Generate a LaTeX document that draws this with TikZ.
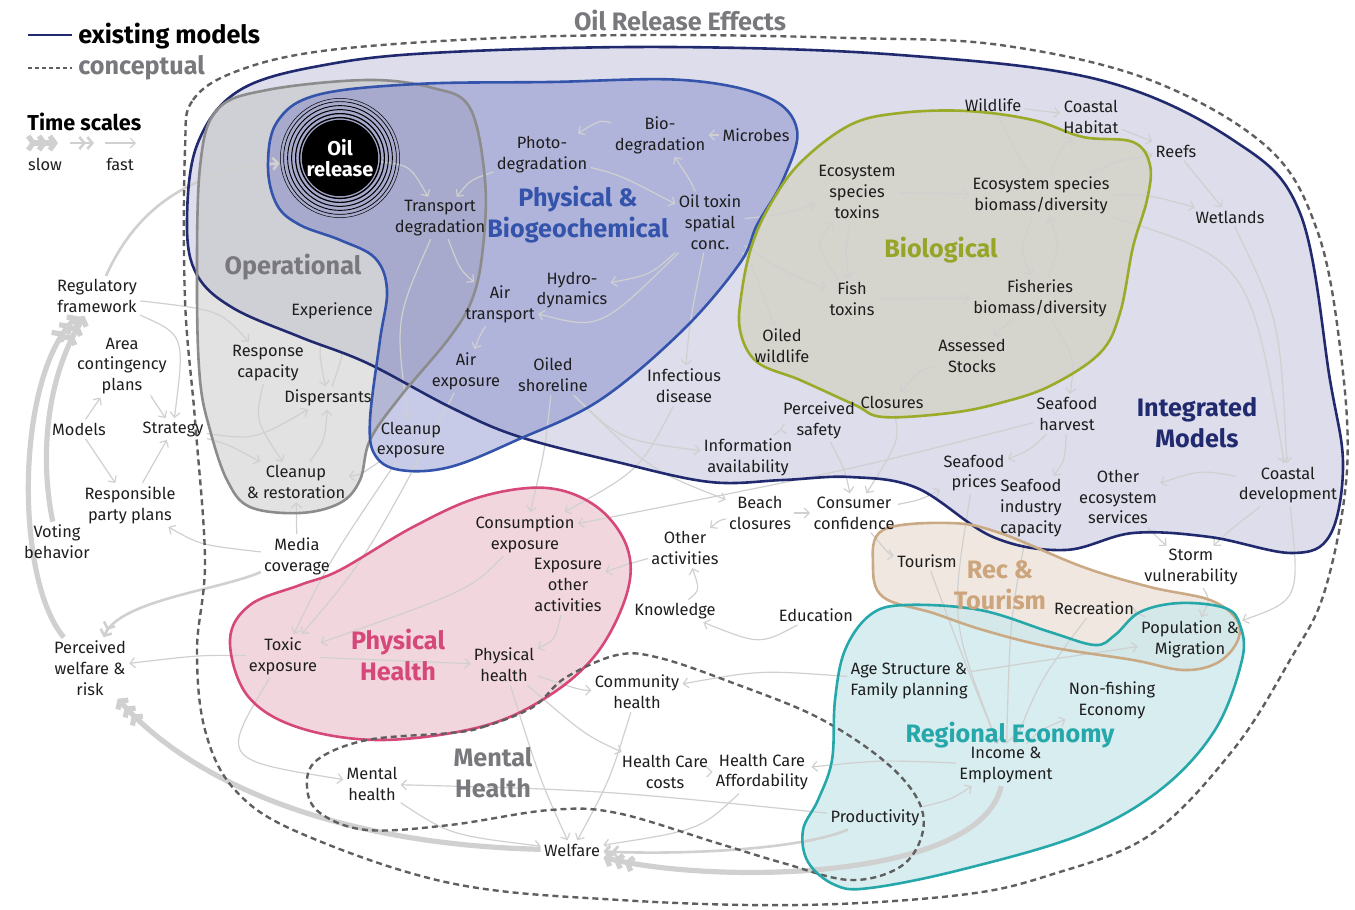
\documentclass[tikz,border=0pt]{standalone}
\usepackage{fontspec}
\setmainfont{Fira Sans}
\usetikzlibrary{arrows.meta}

\definecolor{navy}{RGB}{33,42,110}
\definecolor{imfill}{RGB}{221,221,235}
\definecolor{pbline}{RGB}{52,84,172}
\definecolor{pbfill}{RGB}{84,94,185}
\definecolor{opline}{RGB}{140,140,140}
\definecolor{opfill}{RGB}{190,190,190}
\definecolor{bioline}{RGB}{155,170,40}
\definecolor{biofill}{RGB}{213,212,202}
\definecolor{phline}{RGB}{214,72,122}
\definecolor{phfill}{RGB}{242,214,222}
\definecolor{recline}{RGB}{202,170,132}
\definecolor{recfill}{RGB}{240,232,224}
\definecolor{ecoline}{RGB}{38,168,170}
\definecolor{ecofill}{RGB}{205,232,236}
\definecolor{mhline}{RGB}{95,95,95}
\definecolor{linkgray}{RGB}{208,208,208}
\definecolor{txtgray}{RGB}{120,120,125}
\definecolor{lbltext}{RGB}{30,30,30}

\newcommand\lblfont{\fontsize{8.2}{10.4}\selectfont}
\newcommand\regfont{\fontsize{12.6}{15.5}\selectfont\bfseries}

\pgfdeclarelayer{fills}
\pgfdeclarelayer{links}
\pgfdeclarelayer{outlines}
\pgfsetlayers{fills,links,outlines,main}

\tikzset{
  lbl/.style={font=\lblfont, align=center, inner sep=1.5pt, text=lbltext},
  reglbl/.style={font=\regfont, align=center, inner sep=0pt},
  fastlink/.style={draw=linkgray, line width=0.6pt, -{Straight Barb[length=2.5pt,width=5pt]}},
  midlink/.style={draw=linkgray, line width=1.3pt, -{Straight Barb[length=2.5pt,width=6pt]Straight Barb[length=2.5pt,width=6pt]}},
  slowlink/.style={draw=linkgray, line width=2.6pt, -{Straight Barb[length=2.5pt,width=7pt]Straight Barb[length=2.5pt,width=7pt]Straight Barb[length=2.5pt,width=7pt]}},
  blob/.style={smooth cycle, tension=0.6},
}

\begin{document}
\begin{tikzpicture}[x=0.5pt,y=-0.5pt]
\useasboundingbox (0,0) rectangle (1355,910);

\path[save path=\pOuter] plot[blob] coordinates {(185,150) (193,100) (240,70) (330,50) (500,38) (670,35) (850,38) (1000,45) (1150,80) (1267,147) (1317,230) (1340,347) (1347,470) (1325,590) (1290,660) (1233,750) (1150,835) (1050,875) (960,895) (800,905) (620,900) (450,883) (300,833) (235,790) (205,730) (197,650) (205,560) (195,420) (185,300)};
\path[save path=\pIM] plot[blob] coordinates {(187,225) (197,145) (240,90) (330,64) (450,52) (670,47) (900,55) (1100,80) (1233,140) (1300,213) (1330,380) (1343,465) (1330,535) (1292,553) (1210,537) (1133,533) (1065,550) (993,537) (917,488) (850,477) (783,480) (710,482) (617,462) (517,436) (450,407) (367,363) (300,337) (233,308) (197,275)};
\path[save path=\pOP] plot[blob] coordinates {(200,167) (217,110) (267,90) (367,80) (433,88) (470,108) (485,180) (483,247) (473,297) (450,337) (400,397) (370,440) (360,480) (340,503) (300,513) (250,507) (227,480) (210,430) (200,380) (197,290)};
\path[save path=\pPB] plot[blob] coordinates {(268,167) (277,122) (317,95) (417,84) (550,82) (683,80) (767,97) (797,130) (783,180) (757,225) (740,263) (683,330) (600,400) (517,440) (450,467) (400,470) (375,455) (370,420) (380,340) (387,290) (375,258) (340,240) (300,225) (277,205)};
\path[save path=\pBIO] plot[blob] coordinates {(850,125) (900,113) (967,111) (1033,120) (1083,137) (1133,142) (1150,165) (1147,200) (1133,247) (1120,313) (1100,353) (1050,386) (1000,403) (950,413) (883,417) (855,405) (800,380) (757,362) (740,330) (742,290) (752,245) (770,205) (800,163)};
\path[save path=\pPH] plot[blob] coordinates {(230,640) (250,605) (300,585) (340,570) (413,527) (480,497) (547,488) (597,507) (627,547) (627,593) (597,653) (547,697) (480,727) (380,740) (297,727) (247,695)};
\path[save path=\pMH] plot[blob] coordinates {(450,733) (483,727) (533,707) (565,678) (617,655) (660,658) (733,683) (817,717) (883,760) (918,800) (922,835) (900,867) (850,880) (783,863) (717,843) (617,813) (550,810) (450,825) (367,830) (320,813) (307,787) (317,760) (367,740)};
\path[save path=\pREC] plot[blob] coordinates {(873,565) (883,530) (950,523) (1000,533) (1083,567) (1150,587) (1210,600) (1237,620) (1237,642) (1217,663) (1183,670) (1133,660) (1050,647) (983,630) (933,613) (883,597)};
\path[save path=\pECO] plot[blob] coordinates {(835,885) (870,888) (960,870) (1080,835) (1160,790) (1215,730) (1242,660) (1240,625) (1225,608) (1180,603) (1140,612) (1115,635) (1095,645) (1050,632) (980,610) (905,605) (870,615) (845,650) (835,700) (832,760) (818,800) (803,830) (808,862)};

\begin{pgfonlayer}{fills}
\path[use path=\pIM, fill=imfill];
\path[use path=\pOP, fill=opfill, fill opacity=0.45];
\path[use path=\pPB, fill=pbfill, fill opacity=0.32];
\path[use path=\pBIO, fill=biofill, fill opacity=0.9];
\path[use path=\pPH, fill=phfill];
\path[use path=\pREC, fill=recfill];
\path[use path=\pECO, fill=ecofill, fill opacity=0.8];
\end{pgfonlayer}

\node[circle, fill=black, minimum size=37pt, inner sep=0pt, text=white, align=center, font=\fontsize{10}{10.5}\selectfont\bfseries] (oil) at (340,158) {Oil\\release};
\foreach \r/\w in {20.2/0.7,22.2/0.6,24.2/0.5,26.2/0.45,28.2/0.35,29.8/0.25}
  \draw[line width=\w pt] (oil.center) circle (\r pt);

\node[lbl] (transport) at (440,218) {Transport\\degradation};
\node[lbl] (photo) at (542,155) {Photo-\\degradation};
\node[lbl] (biodeg) at (660,135) {Bio-\\degradation};
\node[lbl] (microbes) at (756,135) {Microbes};
\node[lbl] (oiltox) at (710,222) {Oil toxin\\spatial\\conc.};
\node[lbl] (hydro) at (572,290) {Hydro-\\dynamics};
\node[lbl] (airtrans) at (500,304) {Air\\transport};
\node[lbl] (airexp) at (466,371) {Air\\exposure};
\node[lbl] (oiledshore) at (553,375) {Oiled\\shoreline};
\node[lbl] (cleanexp) at (411,440) {Cleanup\\exposure};
\node[lbl] (experience) at (332,311) {Experience};
\node[lbl] (response) at (268,363) {Response\\capacity};
\node[lbl] (dispersants) at (328,398) {Dispersants};
\node[lbl] (cleanrest) at (296,482) {Cleanup\\\& restoration};
\node[lbl] (regulatory) at (97,296) {Regulatory\\framework};
\node[lbl] (area) at (122,366) {Area\\contingency\\plans};
\node[lbl] (models) at (79,429) {Models};
\node[lbl] (strategy) at (173,429) {Strategy};
\node[lbl] (responsible) at (130,505) {Responsible\\party plans};
\node[lbl] (voting) at (57,542) {Voting\\behavior};
\node[lbl] (media) at (297,556) {Media\\coverage};
\node[lbl] (percwelfare) at (90,668) {Perceived\\welfare \&\\risk};
\node[lbl] (toxic) at (283,656) {Toxic\\exposure};
\node[lbl] (consumexp) at (525,534) {Consumption\\exposure};
\node[lbl] (exposother) at (568,585) {Exposure\\other\\activities};
\node[lbl] (physhealth) at (504,665) {Physical\\health};
\node[lbl] (knowledge) at (675,611) {Knowledge};
\node[lbl] (otheract) at (685,548) {Other\\activities};
\node[lbl] (education) at (816,615) {Education};
\node[lbl] (beach) at (760,513) {Beach\\closures};
\node[lbl] (consumer) at (854,513) {Consumer\\confidence};
\node[lbl] (infoav) at (748,457) {Information\\availability};
\node[lbl] (percsafety) at (819,420) {Perceived\\safety};
\node[lbl] (infectious) at (684,386) {Infectious\\disease};
\node[lbl] (oiledwild) at (782,346) {Oiled\\wildlife};
\node[lbl] (closures) at (892,402) {Closures};
\node[lbl] (ecotox) at (857,192) {Ecosystem\\species\\toxins};
\node[lbl] (fishtox) at (852,299) {Fish\\toxins};
\node[lbl] (ecobio) at (1041,195) {Ecosystem species\\biomass/diversity};
\node[lbl] (fishbio) at (1040,298) {Fisheries\\biomass/diversity};
\node[lbl] (assessed) at (972,356) {Assessed\\Stocks};
\node[lbl] (wildlife) at (993,105) {Wildlife};
\node[lbl] (coasthab) at (1091,117) {Coastal\\Habitat};
\node[lbl] (reefs) at (1176,151) {Reefs};
\node[lbl] (wetlands) at (1230,217) {Wetlands};
\node[lbl] (harvest) at (1067,414) {Seafood\\harvest};
\node[lbl] (prices) at (974,473) {Seafood\\prices};
\node[lbl] (industry) at (1031,508) {Seafood\\industry\\capacity};
\node[lbl] (othereco) at (1118,497) {Other\\ecosystem\\services};
\node[lbl] (coastdev) at (1288,485) {Coastal\\development};
\node[lbl] (storm) at (1191,567) {Storm\\vulnerability};
\node[lbl] (tourism) at (927,561) {Tourism};
\node[lbl] (recreation) at (1094,608) {Recreation};
\node[lbl] (population) at (1190,639) {Population \&\\Migration};
\node[lbl] (agestruct) at (909,681) {Age Structure \&\\Family planning};
\node[lbl] (nonfish) at (1112,700) {Non-fishing\\Economy};
\node[lbl] (income) at (1006,765) {Income \&\\Employment};
\node[lbl] (productivity) at (875,818) {Productivity};
\node[lbl] (commhealth) at (637,692) {Community\\health};
\node[lbl] (hccosts) at (665,772) {Health Care\\costs};
\node[lbl] (hcafford) at (762,772) {Health Care\\Affordability};
\node[lbl] (mentalh) at (372,784) {Mental\\health};
\node[lbl] (welfare) at (572,850) {Welfare};

\begin{pgfonlayer}{links}
\draw[fastlink] (oil) .. controls (410,165) .. (transport);
\draw[fastlink] (photo) .. controls (470,180) .. (transport);
\draw[fastlink] (biodeg) .. controls (600,120) .. (photo);
\draw[fastlink] (microbes) -- (biodeg);
\draw[fastlink] (oiltox) .. controls (690,180) .. (biodeg);
\draw[fastlink] (photo) .. controls (620,175) .. (oiltox);
\draw[fastlink] (oiltox) .. controls (650,275) .. (hydro);
\draw[fastlink] (oiltox) .. controls (600,330) .. (airtrans);
\draw[fastlink] (airtrans) .. controls (480,335) .. (airexp);
\draw[fastlink] (transport) .. controls (460,270) .. (airtrans);
\draw[fastlink] (transport) .. controls (395,320) .. (cleanexp);
\draw[fastlink] (oiltox) .. controls (690,320) .. (infectious);
\draw[fastlink] (oiltox) .. controls (750,260) .. (oiledwild);
\draw[fastlink] (oiltox) .. controls (780,215) .. (ecotox);
\draw[fastlink] (oiltox) .. controls (780,270) .. (fishtox);
\draw[fastlink] (ecotox) .. controls (845,250) .. (fishtox);
\draw[fastlink] (fishtox) .. controls (815,245) .. (ecotox);
\draw[fastlink] (ecotox) -- (ecobio);
\draw[fastlink] (fishtox) -- (fishbio);
\draw[fastlink] (ecobio) .. controls (1020,250) .. (fishbio);
\draw[fastlink] (fishbio) .. controls (1060,245) .. (ecobio);
\draw[fastlink] (ecobio) .. controls (1010,140) .. (wildlife);
\draw[fastlink] (ecobio) .. controls (1060,150) .. (coasthab);
\draw[fastlink] (ecobio) .. controls (1120,160) .. (reefs);
\draw[fastlink] (ecobio) .. controls (1150,195) .. (wetlands);
\draw[fastlink] (wildlife) -- (coasthab);
\draw[fastlink] (coasthab) -- (reefs);
\draw[fastlink] (reefs) -- (wetlands);
\draw[fastlink] (fishbio) .. controls (1000,330) .. (assessed);
\draw[fastlink] (assessed) .. controls (920,370) .. (closures);
\draw[fastlink] (fishbio) .. controls (1075,360) .. (harvest);
\draw[fastlink] (harvest) .. controls (1030,450) .. (prices);
\draw[fastlink] (harvest) .. controls (1065,460) .. (industry);
\draw[fastlink] (coastdev) .. controls (1200,470) .. (othereco);
\draw[fastlink] (coastdev) .. controls (1230,530) .. (storm);
\draw[fastlink] (othereco) .. controls (1160,540) .. (storm);
\draw[fastlink] (wetlands) .. controls (1280,320) .. (coastdev);
\draw[fastlink] (ecobio) .. controls (1250,260) .. (coastdev);
\draw[fastlink] (infoav) .. controls (780,430) .. (percsafety);
\draw[fastlink] (percsafety) .. controls (845,470) .. (consumer);
\draw[fastlink] (beach) -- (consumer);
\draw[fastlink] (beach) .. controls (720,520) .. (otheract);
\draw[fastlink] (knowledge) .. controls (700,590) .. (otheract);
\draw[fastlink] (education) .. controls (760,645) .. (knowledge);
\draw[fastlink] (consumer) .. controls (890,555) .. (tourism);
\draw[fastlink] (population) .. controls (1135,612) .. (recreation);
\draw[fastlink] (agestruct) .. controls (1080,655) .. (population);
\draw[fastlink] (income) .. controls (1040,730) .. (nonfish);
\draw[fastlink] (productivity) .. controls (950,800) .. (income);
\draw[fastlink] (hccosts) -- (hcafford);
\draw[fastlink] (income) .. controls (880,760) .. (hcafford);
\draw[fastlink] (toxic) -- (physhealth);
\draw[fastlink] (exposother) .. controls (555,640) .. (physhealth);
\draw[fastlink] (consumexp) .. controls (470,590) .. (toxic);
\draw[fastlink] (physhealth) .. controls (580,690) .. (commhealth);
\draw[fastlink] (agestruct) .. controls (760,670) .. (commhealth);
\draw[fastlink] (physhealth) .. controls (585,735) .. (hccosts);
\draw[fastlink] (toxic) .. controls (220,760) .. (mentalh);
\draw[fastlink] (productivity) .. controls (600,790) .. (mentalh);
\draw[fastlink] (mentalh) .. controls (450,835) .. (welfare);
\draw[fastlink] (physhealth) .. controls (540,780) .. (welfare);
\draw[fastlink] (commhealth) .. controls (610,780) .. (welfare);
\draw[fastlink] (hcafford) .. controls (700,830) .. (welfare);
\draw[fastlink] (media) .. controls (200,545) .. (responsible);
\draw[fastlink] (media) -- (cleanrest);
\draw[fastlink] (toxic) .. controls (200,655) .. (percwelfare);
\draw[fastlink] (regulatory) .. controls (220,310) .. (response);
\draw[fastlink] (regulatory) .. controls (185,335) .. (strategy);
\draw[fastlink] (area) .. controls (150,395) .. (strategy);
\draw[fastlink] (models) -- (area);
\draw[fastlink] (models) -- (responsible);
\draw[fastlink] (responsible) -- (strategy);
\draw[fastlink] (strategy) .. controls (230,445) .. (cleanrest);
\draw[fastlink] (strategy) .. controls (255,440) .. (dispersants);
\draw[fastlink] (response) .. controls (255,420) .. (cleanrest);
\draw[fastlink] (experience) .. controls (318,350) .. (dispersants);
\draw[fastlink] (dispersants) .. controls (345,350) .. (experience);
\draw[fastlink] (cleanrest) .. controls (325,440) .. (dispersants);
\draw[fastlink] (cleanexp) .. controls (360,475) .. (cleanrest);
\draw[fastlink] (cleanexp) .. controls (330,560) .. (toxic);
\draw[fastlink] (airexp) .. controls (365,560) .. (toxic);
\draw[fastlink] (oiledshore) .. controls (545,450) .. (consumexp);
\draw[fastlink] (oiledshore) .. controls (650,470) .. (beach);
\draw[fastlink] (oiledshore) .. controls (620,440) .. (infoav);
\draw[fastlink] (harvest) .. controls (850,470) .. (consumexp);
\draw[fastlink] (otheract) .. controls (625,565) .. (exposother);
\draw[fastlink] (prices) .. controls (950,620) .. (income);
\draw[fastlink] (industry) .. controls (1010,620) .. (income);
\draw[fastlink] (recreation) .. controls (1040,680) .. (income);
\draw[fastlink] (tourism) .. controls (960,650) .. (income);
\draw[fastlink] (storm) .. controls (1210,600) .. (population);
\draw[fastlink] (coastdev) .. controls (1300,600) .. (population);
\draw[fastlink] (consumer) .. controls (920,500) .. (prices);
\draw[fastlink] (infectious) .. controls (640,470) .. (consumexp);
\draw[fastlink] (closures) .. controls (900,440) .. (consumer);

\draw[midlink, shorten >=11pt] (regulatory) .. controls (140,200) and (200,170) .. (oil);
\draw[midlink] (productivity) .. controls (800,850) and (680,855) .. (welfare);
\draw[midlink] (media) .. controls (220,590) and (120,600) .. (percwelfare);

\draw[slowlink] (voting) .. controls (40,460) and (45,380) .. (regulatory);
\draw[slowlink] (percwelfare) .. controls (15,580) and (15,380) .. (regulatory);
\draw[slowlink] (welfare) .. controls (350,845) and (200,790) .. (percwelfare);
\draw[slowlink] (income) .. controls (980,880) and (720,885) .. (welfare);
\end{pgfonlayer}

\begin{pgfonlayer}{outlines}
\path[use path=\pOuter, draw=mhline, line width=1.2pt, dash pattern=on 3pt off 2pt];
\path[use path=\pIM, draw=navy, line width=1.3pt];
\path[use path=\pOP, draw=opline, line width=1.3pt];
\path[use path=\pPB, draw=pbline, line width=1.3pt];
\path[use path=\pBIO, draw=bioline, line width=1.3pt];
\path[use path=\pPH, draw=phline, line width=1.3pt];
\path[use path=\pMH, draw=mhline, line width=1.2pt, dash pattern=on 3pt off 2pt];
\path[use path=\pREC, draw=recline, line width=1.3pt];
\path[use path=\pECO, draw=ecoline, line width=1.3pt];
\end{pgfonlayer}

\node[reglbl, text=txtgray] (titleofall) at (680,20) {Oil Release Effects};
\node[reglbl, text=pbline] (pbname) at (578,215) {Physical \&\\Biogeochemical};
\node[reglbl, text=txtgray] (opname) at (293,267) {Operational};
\node[reglbl, text={rgb,255:red,150;green,165;blue,40}] (bioname) at (941,250) {Biological};
\node[reglbl, text=navy] (imname) at (1197,423) {Integrated\\Models};
\node[reglbl, text=phline] (phname) at (398,655) {Physical\\Health};
\node[reglbl, text=txtgray] (mhname) at (493,773) {Mental\\Health};
\node[reglbl, text={rgb,255:red,205;green,165;blue,125}] (recname) at (1000,585) {Rec \&\\Tourism};
\node[reglbl, text=ecoline] (econame) at (1010,735) {Regional Economy};

\coordinate (legA) at (28,35);
\coordinate (legB) at (72,35);
\coordinate (legC) at (28,68);
\coordinate (legD) at (72,68);
\draw[navy, line width=1.3pt] (legA) -- (legB);
\draw[mhline, line width=1.2pt, dash pattern=on 2pt off 1.5pt] (legC) -- (legD);
\node[reglbl, anchor=west, text=black] (legexist) at (78,36) {existing models};
\node[reglbl, anchor=west, text=txtgray] (legconc) at (78,68) {conceptual};
\node[anchor=west, font=\fontsize{10.8}{12}\selectfont\bfseries, inner sep=0pt] (timescales) at (27,122) {Time scales};
\coordinate (slowA) at (32,143);
\coordinate (slowB) at (58,143);
\coordinate (midA) at (70,143);
\coordinate (midB) at (94,143);
\coordinate (fastA) at (105,143);
\coordinate (fastB) at (136,143);
\draw[slowlink] (slowA) -- (slowB);
\draw[midlink] (midA) -- (midB);
\draw[fastlink] (fastA) -- (fastB);
\node[lbl] (slowtxt) at (45,164) {slow};
\node[lbl] (fasttxt) at (120,164) {fast};
\end{tikzpicture}
\end{document}
